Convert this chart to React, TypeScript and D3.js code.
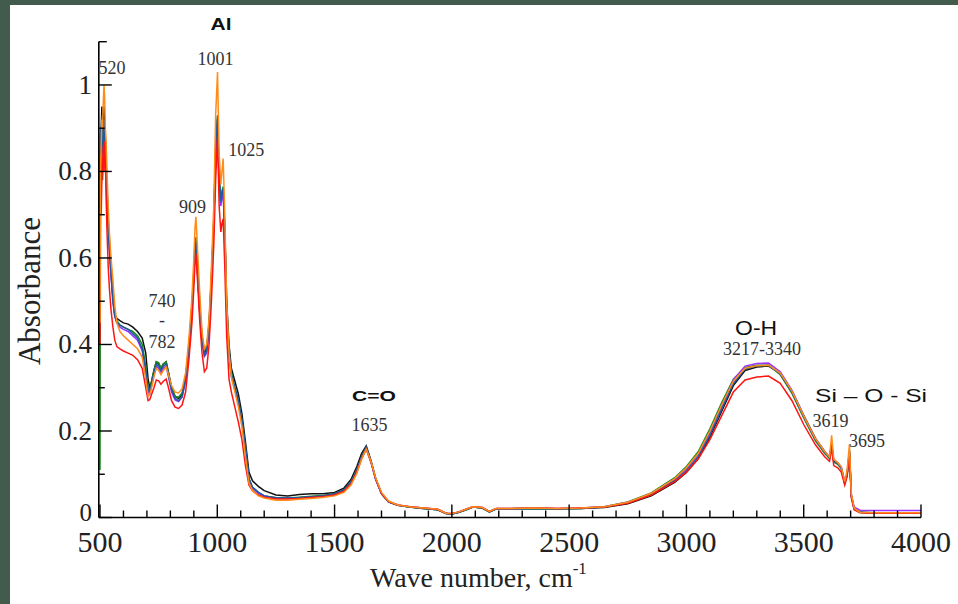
import React from "react";
import * as d3 from "d3";

// Wave numbers (cm^-1) shared by all spectra
const waveNumbers = [
  500, 502, 505, 508, 511, 514, 517, 520, 523, 526,
  530, 535, 540, 547, 555, 563, 572, 585, 600, 620,
  640, 660, 680, 695, 705, 712, 720, 730, 740, 750,
  760, 770, 782, 792, 805, 820, 835, 850, 865, 880,
  892, 900, 905, 909, 915, 925, 935, 945, 955, 965,
  975, 985, 993, 1001, 1008, 1015, 1020, 1025, 1032, 1040,
  1050, 1060, 1075, 1090, 1105, 1120, 1135, 1150, 1175, 1200,
  1250, 1300, 1350, 1400, 1450, 1500, 1540, 1570, 1595, 1615,
  1635, 1655, 1675, 1700, 1730, 1770, 1820, 1880, 1940, 1975,
  2000, 2030, 2060, 2090, 2130, 2160, 2190, 2250, 2350, 2450,
  2550, 2650, 2750, 2850, 2950, 3000, 3050, 3100, 3150, 3200,
  3250, 3300, 3350, 3400, 3450, 3500, 3550, 3590, 3610, 3619,
  3628, 3645, 3660, 3675, 3685, 3695, 3703, 3715, 3740, 3800,
  3900, 4000,
];

const blackSeries = [
  0.60, 0.88, 0.90, 0.95, 0.86, 0.90, 0.95, 0.88, 0.87, 0.82,
  0.76, 0.69, 0.63, 0.57, 0.51, 0.47, 0.46, 0.455, 0.45, 0.447,
  0.44, 0.43, 0.415, 0.38, 0.32, 0.30, 0.315, 0.34, 0.36, 0.355,
  0.345, 0.355, 0.36, 0.335, 0.30, 0.28, 0.275, 0.285, 0.32, 0.40,
  0.48, 0.56, 0.615, 0.63, 0.575, 0.48, 0.41, 0.38, 0.39, 0.445,
  0.55, 0.68, 0.85, 0.92, 0.78, 0.73, 0.75, 0.76, 0.67, 0.50,
  0.40, 0.345, 0.315, 0.285, 0.24, 0.175, 0.105, 0.085, 0.072, 0.062,
  0.052, 0.05, 0.053, 0.055, 0.055, 0.058, 0.068, 0.088, 0.118, 0.148,
  0.166, 0.132, 0.09, 0.055, 0.036, 0.028, 0.024, 0.021, 0.018, 0.009,
  0.008, 0.012, 0.018, 0.024, 0.022, 0.013, 0.02, 0.02, 0.021, 0.02,
  0.021, 0.023, 0.032, 0.05, 0.081, 0.104, 0.136, 0.186, 0.245, 0.305,
  0.34, 0.348, 0.35, 0.333, 0.292, 0.236, 0.183, 0.152, 0.14, 0.165,
  0.13, 0.125, 0.115, 0.078, 0.098, 0.15, 0.05, 0.02, 0.012, 0.01,
  0.01, 0.01,
];

const greenSeries = [
  0.11, 0.70, 0.82, 0.80, 0.78, 0.83, 0.86, 0.82, 0.84, 0.78,
  0.72, 0.68, 0.64, 0.58, 0.52, 0.47, 0.455, 0.445, 0.44, 0.435,
  0.43, 0.42, 0.40, 0.35, 0.30, 0.295, 0.315, 0.34, 0.36, 0.358,
  0.345, 0.355, 0.36, 0.335, 0.30, 0.28, 0.278, 0.288, 0.325, 0.405,
  0.49, 0.57, 0.635, 0.648, 0.59, 0.49, 0.42, 0.385, 0.395, 0.45,
  0.56, 0.69, 0.86, 0.925, 0.785, 0.735, 0.755, 0.765, 0.665, 0.485,
  0.385, 0.335, 0.30, 0.27, 0.225, 0.16, 0.09, 0.07, 0.058, 0.05,
  0.046, 0.045, 0.047, 0.049, 0.051, 0.055, 0.064, 0.082, 0.11, 0.14,
  0.162, 0.13, 0.09, 0.055, 0.036, 0.028, 0.024, 0.021, 0.018, 0.009,
  0.008, 0.012, 0.018, 0.024, 0.022, 0.013, 0.02, 0.02, 0.021, 0.02,
  0.021, 0.025, 0.036, 0.057, 0.092, 0.118, 0.152, 0.205, 0.265, 0.32,
  0.347, 0.352, 0.352, 0.33, 0.287, 0.23, 0.177, 0.148, 0.136, 0.168,
  0.128, 0.123, 0.113, 0.08, 0.1, 0.155, 0.05, 0.02, 0.012, 0.011,
  0.011, 0.011,
];

const purpleSeries = [
  0.55, 0.85, 0.80, 0.88, 0.85, 0.86, 0.88, 0.84, 0.86, 0.80,
  0.74, 0.67, 0.62, 0.56, 0.50, 0.465, 0.45, 0.44, 0.435, 0.43,
  0.42, 0.41, 0.385, 0.335, 0.29, 0.285, 0.305, 0.33, 0.35, 0.345,
  0.335, 0.345, 0.35, 0.325, 0.29, 0.272, 0.268, 0.278, 0.315, 0.395,
  0.475, 0.555, 0.61, 0.625, 0.57, 0.475, 0.405, 0.372, 0.38, 0.435,
  0.54, 0.67, 0.84, 0.91, 0.77, 0.72, 0.74, 0.75, 0.65, 0.47,
  0.375, 0.325, 0.295, 0.265, 0.22, 0.155, 0.088, 0.068, 0.056, 0.05,
  0.045, 0.044, 0.045, 0.047, 0.049, 0.053, 0.062, 0.08, 0.108, 0.138,
  0.16, 0.128, 0.088, 0.055, 0.036, 0.029, 0.025, 0.022, 0.019, 0.01,
  0.009, 0.013, 0.019, 0.025, 0.023, 0.014, 0.021, 0.021, 0.022, 0.021,
  0.022, 0.025, 0.035, 0.055, 0.088, 0.112, 0.145, 0.196, 0.256, 0.318,
  0.35, 0.356, 0.357, 0.337, 0.294, 0.235, 0.182, 0.152, 0.14, 0.172,
  0.132, 0.127, 0.117, 0.082, 0.1, 0.152, 0.052, 0.024, 0.017, 0.016,
  0.016, 0.016,
];

const blueSeries = [
  0.78, 0.90, 0.86, 0.93, 0.84, 0.88, 0.92, 0.86, 0.88, 0.80,
  0.74, 0.67, 0.62, 0.56, 0.50, 0.465, 0.45, 0.445, 0.44, 0.435,
  0.425, 0.415, 0.39, 0.34, 0.295, 0.29, 0.31, 0.335, 0.355, 0.35,
  0.34, 0.35, 0.355, 0.33, 0.295, 0.275, 0.27, 0.28, 0.32, 0.40,
  0.48, 0.56, 0.62, 0.635, 0.58, 0.48, 0.41, 0.375, 0.385, 0.44,
  0.55, 0.68, 0.85, 0.93, 0.78, 0.73, 0.75, 0.76, 0.66, 0.48,
  0.38, 0.33, 0.30, 0.27, 0.225, 0.16, 0.09, 0.07, 0.058, 0.05,
  0.045, 0.045, 0.046, 0.048, 0.05, 0.055, 0.064, 0.082, 0.11, 0.14,
  0.163, 0.13, 0.09, 0.055, 0.036, 0.028, 0.024, 0.021, 0.018, 0.009,
  0.008, 0.012, 0.018, 0.024, 0.022, 0.013, 0.02, 0.02, 0.021, 0.02,
  0.021, 0.024, 0.034, 0.053, 0.085, 0.108, 0.14, 0.19, 0.25, 0.31,
  0.343, 0.35, 0.352, 0.332, 0.29, 0.233, 0.18, 0.15, 0.138, 0.17,
  0.13, 0.125, 0.115, 0.08, 0.10, 0.155, 0.05, 0.02, 0.012, 0.011,
  0.011, 0.011,
];

const redSeries = [
  0.40, 0.75, 0.70, 0.78, 0.82, 0.86, 0.80, 0.87, 0.84, 0.74,
  0.66, 0.58, 0.53, 0.48, 0.44, 0.41, 0.395, 0.39, 0.385, 0.38,
  0.375, 0.365, 0.345, 0.30, 0.27, 0.272, 0.285, 0.30, 0.318, 0.316,
  0.308, 0.315, 0.32, 0.30, 0.27, 0.255, 0.252, 0.26, 0.29, 0.37,
  0.45, 0.53, 0.59, 0.61, 0.555, 0.455, 0.38, 0.337, 0.345, 0.40,
  0.50, 0.63, 0.78, 0.88, 0.72, 0.66, 0.68, 0.69, 0.58, 0.42,
  0.32, 0.29, 0.255, 0.22, 0.18, 0.12, 0.075, 0.062, 0.052, 0.047,
  0.043, 0.043, 0.044, 0.046, 0.048, 0.052, 0.061, 0.078, 0.105, 0.135,
  0.158, 0.128, 0.09, 0.056, 0.037, 0.029, 0.025, 0.022, 0.019, 0.01,
  0.009, 0.013, 0.019, 0.025, 0.023, 0.014, 0.021, 0.021, 0.022, 0.021,
  0.022, 0.024, 0.033, 0.052, 0.083, 0.105, 0.135, 0.18, 0.235, 0.29,
  0.318, 0.325, 0.327, 0.31, 0.27, 0.215, 0.168, 0.14, 0.13, 0.16,
  0.12, 0.115, 0.105, 0.075, 0.095, 0.145, 0.045, 0.018, 0.011, 0.01,
  0.01, 0.01,
];

const orangeSeries = [
  0.45, 0.80, 0.86, 0.92, 0.90, 0.96, 1.00, 0.97, 0.90, 0.87,
  0.80, 0.72, 0.66, 0.60, 0.55, 0.49, 0.45, 0.43, 0.42, 0.41,
  0.40, 0.39, 0.37, 0.32, 0.28, 0.285, 0.30, 0.325, 0.345, 0.34,
  0.33, 0.34, 0.348, 0.33, 0.305, 0.29, 0.288, 0.298, 0.335, 0.42,
  0.51, 0.60, 0.67, 0.695, 0.63, 0.52, 0.43, 0.39, 0.40, 0.46,
  0.58, 0.72, 0.93, 1.03, 0.84, 0.77, 0.80, 0.83, 0.70, 0.50,
  0.38, 0.325, 0.29, 0.255, 0.21, 0.14, 0.08, 0.062, 0.05, 0.045,
  0.04, 0.04, 0.042, 0.044, 0.046, 0.05, 0.058, 0.075, 0.102, 0.135,
  0.158, 0.13, 0.092, 0.058, 0.038, 0.029, 0.025, 0.022, 0.019, 0.01,
  0.009, 0.013, 0.019, 0.025, 0.023, 0.014, 0.021, 0.021, 0.022, 0.021,
  0.022, 0.025, 0.035, 0.056, 0.09, 0.115, 0.148, 0.20, 0.26, 0.315,
  0.345, 0.351, 0.352, 0.334, 0.292, 0.235, 0.182, 0.152, 0.14, 0.19,
  0.135, 0.127, 0.117, 0.083, 0.11, 0.17, 0.055, 0.022, 0.012, 0.011,
  0.011, 0.011,
];

const seriesList = [
  { name: "black", color: "#111111", values: blackSeries },
  { name: "green", color: "#1a8a1a", values: greenSeries },
  { name: "purple", color: "#9a33ff", values: purpleSeries },
  { name: "blue", color: "#1f5a9e", values: blueSeries },
  { name: "red", color: "#ff1414", values: redSeries },
  { name: "orange", color: "#ff8c1a", values: orangeSeries },
];

const xMajorTicks = [500, 1000, 1500, 2000, 2500, 3000, 3500, 4000];
const xMinorTicks = d3.range(600, 4000, 100).filter((v) => v % 500 !== 0);
const yMajorTicks = [0, 0.2, 0.4, 0.6, 0.8, 1];
const yTickLabels = ["0", "0.2", "0.4", "0.6", "0.8", "1"];
const yMinorTicks = [0.1, 0.3, 0.5, 0.7, 0.9];

// peak annotations: [text, wavenumber, absorbance]
const numberNotes: [string, number, number][] = [
  ["520", 551, 1.025],
  ["1001", 992, 1.046],
  ["1025", 1124, 0.836],
  ["909", 894, 0.704],
  ["740", 764, 0.487],
  ["-", 764, 0.443],
  ["782", 764, 0.392],
  ["1635", 1649, 0.2],
  ["3217-3340", 3322, 0.376],
  ["3619", 3614, 0.209],
  ["3695", 3770, 0.163],
];
// group labels: text, wavenumber, absorbance, fontSize, weight, width
const groupNotes: [string, number, number, number, number, number][] = [
  ["Al", 1016, 1.127, 17, 700, 21],
  ["C=O", 1668, 0.269, 15, 700, 44],
  ["O-H", 3297, 0.422, 20, 400, 42],
  ["Si \u2013 O - Si", 3787, 0.267, 19, 400, 112],
];

const W = 958;
const H = 604;

export default function App() {
  const x = d3.scaleLinear().domain([500, 4000]).range([100, 921]);
  const y = d3.scaleLinear().domain([0, 1.1]).range([517.5, 41.7]);
  const line = d3
    .line<number>()
    .x((_, i) => x(waveNumbers[i]))
    .y((d) => y(d));
  const serif = "'Liberation Serif', 'Times New Roman', serif";
  const sans = "'Liberation Sans', Arial, sans-serif";
  const axisX = 98.8;
  return (
    <svg
      width={W}
      height={H}
      style={{ position: "absolute", left: 0, top: 0, background: "#fff" }}
    >
      <rect x={0} y={0} width={W} height={H} fill="#ffffff" />
      <rect x={0} y={0} width={W} height={5} fill="#435b4c" />
      <rect x={0} y={0} width={10} height={H} fill="#435b4c" />

      {seriesList.map((s) => (
        <path
          key={s.name}
          d={line(s.values) || ""}
          fill="none"
          stroke={s.color}
          strokeWidth={1.5}
          strokeLinejoin="miter"
        />
      ))}

      {/* axes */}
      <line x1={axisX} x2={axisX} y1={y(1.1)} y2={y(0)} stroke="#000" strokeWidth={1.6} />
      <line x1={axisX} x2={x(4000)} y1={y(0)} y2={y(0)} stroke="#000" strokeWidth={1.6} />
      <line x1={axisX} x2={axisX + 8} y1={y(1.1)} y2={y(1.1)} stroke="#000" strokeWidth={1.4} />
      {yMajorTicks.map((t) => (
        <line key={"ym" + t} x1={axisX} x2={axisX + 13} y1={y(t)} y2={y(t)} stroke="#000" strokeWidth={1.4} />
      ))}
      {yMinorTicks.map((t) => (
        <line key={"yn" + t} x1={axisX} x2={axisX + 6} y1={y(t)} y2={y(t)} stroke="#000" strokeWidth={1.4} />
      ))}
      {xMajorTicks.map((t) => (
        <line key={"xm" + t} x1={x(t)} x2={x(t)} y1={y(0)} y2={y(0) - 13} stroke="#000" strokeWidth={1.4} />
      ))}
      {xMinorTicks.map((t) => (
        <line key={"xn" + t} x1={x(t)} x2={x(t)} y1={y(0)} y2={y(0) - 7} stroke="#000" strokeWidth={1.4} />
      ))}

      {yMajorTicks.map((t, i) => (
        <text
          key={"yl" + t}
          x={92}
          y={t === 0 ? y(t) + 3 : y(t) + 9}
          textAnchor="end"
          fontFamily={serif}
          fontSize={t === 0 ? 25 : 27}
          fill="#222"
        >
          {yTickLabels[i]}
        </text>
      ))}
      {xMajorTicks.map((t) => (
        <text
          key={"xl" + t}
          x={x(t)}
          y={552}
          textAnchor="middle"
          fontFamily={serif}
          fontSize={30}
          fill="#222"
        >
          {t}
        </text>
      ))}

      <text
        transform={`translate(40,291) rotate(-90)`}
        textAnchor="middle"
        fontFamily={serif}
        fontSize={31}
        fill="#222"
      >
        Absorbance
      </text>
      <text x={370} y={587} fontFamily={serif} fontSize={28} fill="#222">
        Wave number, cm
        <tspan fontSize={17} dy={-13}>-1</tspan>
      </text>

      {numberNotes.map(([t, wv, ab]) => (
        <text
          key={"n" + t}
          x={x(wv)}
          y={y(ab)}
          textAnchor="middle"
          fontFamily={serif}
          fontSize={18}
          fill="#333"
        >
          {t}
        </text>
      ))}
      {groupNotes.map(([t, wv, ab, fs, fw, wd]) => (
        <text
          key={"g" + t}
          x={x(wv) - wd / 2}
          y={y(ab)}
          textLength={wd}
          lengthAdjust="spacingAndGlyphs"
          fontFamily={sans}
          fontSize={fs}
          fontWeight={fw}
          fill="#111"
        >
          {t}
        </text>
      ))}
    </svg>
  );
}
